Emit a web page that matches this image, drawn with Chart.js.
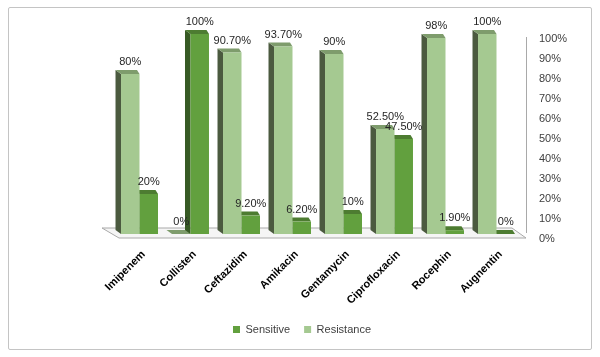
<!DOCTYPE html>
<html><head><meta charset="utf-8">
<script src="https://cdn.jsdelivr.net/npm/chart.js@4.4.0/dist/chart.umd.min.js"></script>
<style>
html,body{margin:0;padding:0;background:#fff;}
#wrap{position:relative;width:600px;height:357px;}
#frame{position:absolute;left:8px;top:7px;width:584px;height:343px;border:1px solid #c4c4c4;border-radius:2px;box-sizing:border-box;}
canvas{position:absolute;left:0;top:0;}
</style></head><body>
<div id="wrap"><div id="frame"></div><canvas id="c" width="600" height="357"></canvas></div>
<script>
const categories = ['Imipenem','Collisten','Ceftazidim','Amikacin','Gentamycin','Ciprofloxacin','Rocephin','Augnentin'];
const sensitive = [20, 100, 9.2, 6.2, 10, 47.5, 1.9, 0];
const resistance = [80, 0, 90.7, 93.7, 90, 52.5, 98, 100];
const sensitiveLabels = ['20%','100%','9.20%','6.20%','10%','47.50%','1.90%','0%'];
const resistanceLabels = ['80%','0%','90.70%','93.70%','90%','52.50%','98%','100%'];
const yTickLabels = ['0%','10%','20%','30%','40%','50%','60%','70%','80%','90%','100%'];

const colors = {
  light: {front:'#a5c991', side:'#4b5a3f', top:'#7e9c6c'},
  dark:  {front:'#62a03e', side:'#375a24', top:'#4d7c31'}
};
const GEO = {dxL:-5.5, dxR:-2.5, dy:-4};
const FONT = 'Liberation Sans';

function poly(ctx, pts, fill, stroke){
  ctx.beginPath();
  ctx.moveTo(pts[0][0], pts[0][1]);
  for (let i=1;i<pts.length;i++) ctx.lineTo(pts[i][0], pts[i][1]);
  ctx.closePath();
  if (fill){ ctx.fillStyle = fill; ctx.fill(); }
  if (stroke){ ctx.strokeStyle = stroke; ctx.lineWidth = 1; ctx.stroke(); }
}

const bar3d = {
  id:'bar3d',
  beforeDatasetsDraw(chart){
    const ctx = chart.ctx, ca = chart.chartArea;
    ctx.save();
    const fb = ca.bottom + 4, bb = ca.bottom - 6;
    poly(ctx, [[ca.left+5, fb],[ca.right+4, fb],[ca.right-10, bb],[ca.left-12, bb]], '#f5f5f5', '#a9a9a9');
    ctx.beginPath();
    ctx.moveTo(ca.right+4.5, ca.top+3);
    ctx.lineTo(ca.right+4.5, ca.bottom-1);
    ctx.strokeStyle = '#a9a9a9'; ctx.lineWidth = 1; ctx.stroke();
    [0,1].forEach(di => {
      const meta = chart.getDatasetMeta(di);
      const c = di === 0 ? colors.light : colors.dark;
      meta.data.forEach(el => {
        const p = el.getProps(['x','y','base','width'], true);
        const x0 = p.x - p.width/2, x1 = p.x + p.width/2;
        poly(ctx, [[x0,p.y],[x0+GEO.dxL,p.y+GEO.dy],[x0+GEO.dxL,p.base+GEO.dy],[x0,p.base]], c.side);
        poly(ctx, [[x0,p.y],[x1,p.y],[x1+GEO.dxR,p.y+GEO.dy],[x0+GEO.dxL,p.y+GEO.dy]], c.top);
      });
    });
    ctx.restore();
  },
  afterDatasetsDraw(chart){
    const ctx = chart.ctx;
    ctx.save();
    ctx.font = '11px "' + FONT + '"';
    ctx.fillStyle = '#262626';
    ctx.textAlign = 'center';
    ctx.textBaseline = 'middle';
    const lbls = [resistanceLabels, sensitiveLabels];
    [0,1].forEach(di => {
      const meta = chart.getDatasetMeta(di);
      meta.data.forEach((el, i) => {
        const p = el.getProps(['x','y'], true);
        ctx.fillText(lbls[di][i], p.x, p.y - 12);
      });
    });
    ctx.restore();
  }
};

new Chart(document.getElementById('c'), {
  type: 'bar',
  data: {
    labels: categories,
    datasets: [
      {label:'Resistance', data:resistance, backgroundColor:colors.light.front, yAxisID:'y', categoryPercentage:0.725, barPercentage:1},
      {label:'Sensitive', data:sensitive, backgroundColor:colors.dark.front, yAxisID:'y', categoryPercentage:0.725, barPercentage:1}
    ]
  },
  options: {
    responsive:false, animation:false, events:[],
    layout:{padding:{left:22, right:18, top:34, bottom:12}},
    plugins:{
      legend:{position:'bottom', labels:{sort:(a,b)=>b.datasetIndex-a.datasetIndex, boxWidth:7, boxHeight:7, padding:14, color:'#404040', font:{family:FONT, size:11}}},
      tooltip:{enabled:false}
    },
    scales:{
      x:{grid:{display:false, drawTicks:false}, border:{display:false},
         ticks:{maxRotation:45, minRotation:45, autoSkip:false, padding:14, labelOffset:4, color:'#000', font:{family:FONT, size:11, weight:'bold'}},
         afterFit:s=>{s.height=76;}},
      y:{position:'right', min:0, max:100, grid:{display:false, drawTicks:false}, border:{display:false},
         ticks:{stepSize:10, callback:(v,i)=>yTickLabels[i], padding:17, labelOffset:5, color:'#404040', font:{family:FONT, size:11}},
         afterFit:s=>{s.width=60;}},
      yL:{position:'left', min:0, max:100, grid:{display:false, drawTicks:false}, border:{display:false},
          ticks:{display:false}, afterFit:s=>{s.width=92;}}
    }
  },
  plugins:[bar3d]
});
</script>
</body></html>
